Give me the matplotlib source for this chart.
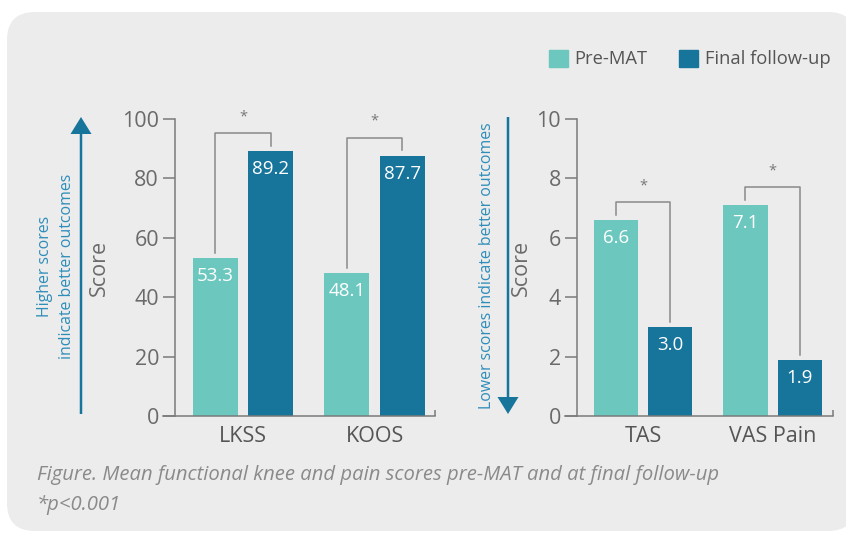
import matplotlib.pyplot as plt
from matplotlib.patches import FancyBboxPatch, FancyArrow, Patch

# ------------------------------------------------------------
# Data
# ------------------------------------------------------------
func_labels = ["LKSS", "KOOS"]
func_pre = [53.3, 48.1]
func_final = [89.2, 87.7]

pain_labels = ["TAS", "VAS Pain"]
pain_pre = [6.6, 7.1]
pain_final = [3.0, 1.9]

series_names = ["Pre-MAT", "Final follow-up"]

PRE_COLOR = "#6cc8bf"
FINAL_COLOR = "#17759c"
PANEL = "#ebeceb"
AXIS_GREY = "#7a7a7a"
TEXT_GREY = "#6a6a6a"
NOTE_BLUE = "#2e8dba"

plt.rcParams["font.family"] = ["Open Sans", "DejaVu Sans"]

W, H = 846, 533
fig = plt.figure(figsize=(W / 100, H / 100), dpi=100)
fig.patch.set_facecolor("white")


def px_box(x0, y0, x1, y1):
    # pixel box measured from top-left -> figure fraction rect
    return [x0 / W, 1 - y1 / H, (x1 - x0) / W, (y1 - y0) / H]


# rounded grey panel behind everything
panel = FancyBboxPatch((7 / W, 1 - 531 / H), (856 - 7) / W, (531 - 12) / H,
                       boxstyle="round,pad=0,rounding_size=0.033",
                       transform=fig.transFigure, facecolor=PANEL,
                       edgecolor="none", zorder=-10,
                       mutation_aspect=W / H)
fig.patches.append(panel)


def bar_panel(rect, labels, pre, final, ymax, ystep, xlim):
    ax = fig.add_axes(rect)
    ax.patch.set_alpha(0)
    x = list(range(len(labels)))
    w, off = 0.343, 0.21
    ax.bar([i - off for i in x], pre, w, color=PRE_COLOR)
    ax.bar([i + off for i in x], final, w, color=FINAL_COLOR)

    ax.set_ylim(0, ymax)
    ax.set_xlim(*xlim)
    ax.set_yticks([ystep * k for k in range(int(ymax / ystep) + 1)])
    ax.set_xticks(x)
    ax.set_xticklabels(labels, fontsize=15.5, color="#555555")
    ax.tick_params(axis="x", length=0, pad=7)
    ax.tick_params(axis="y", length=8.5, width=1.1, color=AXIS_GREY,
                   labelsize=15.5, labelcolor=TEXT_GREY, pad=3)
    for s in ["top", "right"]:
        ax.spines[s].set_visible(False)
    for s in ["left", "bottom"]:
        ax.spines[s].set_color(AXIS_GREY)
        ax.spines[s].set_linewidth(1.1)
    ax.spines["bottom"].set_bounds(xlim[0] - 0.09, xlim[1])
    # small upturned end at right of baseline
    ax.plot([xlim[1], xlim[1]], [0, ymax * 0.02], color=AXIS_GREY,
            lw=1.1, clip_on=False, solid_capstyle="butt")

    # value labels inside bars
    for i in x:
        for xx, v in [(i - off, pre[i]), (i + off, final[i])]:
            ax.annotate(f"{v:.1f}", (xx, v), xytext=(0, -13),
                        textcoords="offset points", ha="center",
                        va="center", color="white", fontsize=13.5)

    # significance brackets
    for i in x:
        top = max(pre[i], final[i]) + ymax * 0.06
        gap = ymax * 0.017
        ax.plot([i - off, i - off, i + off, i + off],
                [pre[i] + gap, top, top, final[i] + gap],
                color="#8a8a8a", lw=1.1, clip_on=False)
        ax.text(i, top + ymax * 0.055, "*", ha="center", va="center",
                fontsize=10.5, color="#777777")
    return ax


ax1 = bar_panel(px_box(175, 119, 435, 416), func_labels, func_pre,
                func_final, 100, 20, (-0.517, 1.46))
ax1.set_ylabel("Score", fontsize=15.5, color=TEXT_GREY)
ax1.yaxis.set_label_coords(-0.25, 0.5)

ax2 = bar_panel(px_box(577, 119, 833, 416), pain_labels, pain_pre,
                pain_final, 10, 2, (-0.51, 1.467))
ax2.set_ylabel("Score", fontsize=15.5, color=TEXT_GREY)
ax2.yaxis.set_label_coords(-0.175, 0.5)

# direction arrows (figure inches)
up = FancyArrow(0.81, (H - 414) / 100, 0, (414 - 117) / 100, width=0.025,
                head_width=0.21, head_length=0.17, length_includes_head=True,
                transform=fig.dpi_scale_trans, color=FINAL_COLOR, lw=0)
down = FancyArrow(5.08, (H - 117) / 100, 0, -(414 - 117) / 100, width=0.025,
                  head_width=0.21, head_length=0.17, length_includes_head=True,
                  transform=fig.dpi_scale_trans, color=FINAL_COLOR, lw=0)
fig.patches.extend([up, down])

fig.text(56 / W, 1 - 266 / H, "Higher scores\nindicate better outcomes",
         rotation=90, ha="center", va="center", fontsize=11.4,
         color=NOTE_BLUE, linespacing=1.45)
fig.text(487 / W, 1 - 266 / H, "Lower scores indicate better outcomes",
         rotation=90, ha="center", va="center", fontsize=11.4,
         color=NOTE_BLUE)

# legend
handles = [Patch(color=PRE_COLOR), Patch(color=FINAL_COLOR)]
fig.legend(handles, series_names, ncol=2, frameon=False,
           loc="center right", bbox_to_anchor=(831 / W, 1 - 59 / H),
           fontsize=13.2, labelcolor="#555555", handlelength=1.05,
           handleheight=1.05, handletextpad=0.38, columnspacing=1.7,
           borderpad=0, borderaxespad=0)

# caption
fig.text(37 / W, 1 - 475 / H,
         "Figure. Mean functional knee and pain scores pre-MAT and at final follow-up",
         fontsize=14.6, style="italic", color="#8a8a8a", va="center")
fig.text(37 / W, 1 - 505 / H, "*p<0.001", fontsize=14.6, style="italic",
         color="#8a8a8a", va="center")

fig.savefig("out.png", dpi=100, facecolor=fig.get_facecolor())
